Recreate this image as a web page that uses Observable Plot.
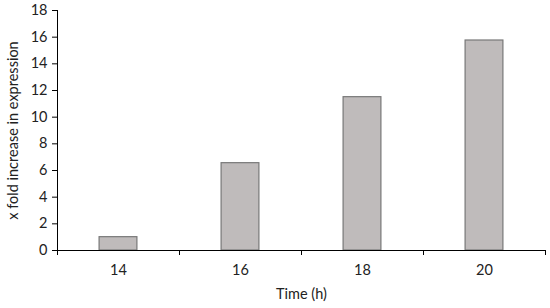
<!DOCTYPE html>
<html>
<head>
<meta charset="utf-8">
<script src="https://cdn.jsdelivr.net/npm/d3@7"></script>
<script src="https://cdn.jsdelivr.net/npm/@observablehq/plot@0.6"></script>
<style>
  html, body { margin: 0; padding: 0; background: #fff; }
  svg { display: block; }
</style>
</head>
<body>
<div id="chart"></div>
<script>
const times = [14, 16, 18, 20];
const values = [1.0, 6.55, 11.5, 15.75];
const yTicks = [0, 2, 4, 6, 8, 10, 12, 14, 16, 18];

const data = times.map((t, i) => ({t, v: values[i]}));
const step = times[1] - times[0];
const boundaries = [...times.map(t => t - step / 2), times[times.length - 1] + step / 2];
const halfBar = step * 0.155;

const chart = Plot.plot({
  width: 550,
  height: 308,
  marginLeft: 57,
  marginRight: 5,
  marginTop: 10,
  marginBottom: 58,
  style: {fontFamily: "Lato, 'Open Sans', sans-serif", fontSize: "14px", color: "#222", background: "#fff"},
  x: {domain: [boundaries[0], boundaries[boundaries.length - 1]]},
  y: {domain: [0, 18]},
  marks: [
    Plot.rectY(data, {x1: d => d.t - halfBar, x2: d => d.t + halfBar, y1: 0, y2: "v", fill: "#bfbbbb", stroke: "#787878", strokeWidth: 1.2}),
    Plot.axisY({ticks: yTicks, tickSize: 5, tickPadding: 5, stroke: "#000", fontSize: 14.5,
      label: "x fold increase in expression", labelAnchor: "center", labelArrow: "none", labelOffset: 50}),
    Plot.axisX({ticks: boundaries, tickSize: 5, tickFormat: () => "", label: null, stroke: "#000"}),
    Plot.axisX({ticks: times, tickSize: 0, tickPadding: 14, fontSize: 14.5,
      label: "Time (h)", labelAnchor: "center", labelArrow: "none", labelOffset: 48}),
    Plot.ruleX([boundaries[0]], {stroke: "#000"}),
    Plot.ruleY([0], {stroke: "#000"})
  ]
});
document.getElementById("chart").appendChild(chart);
</script>
</body>
</html>
